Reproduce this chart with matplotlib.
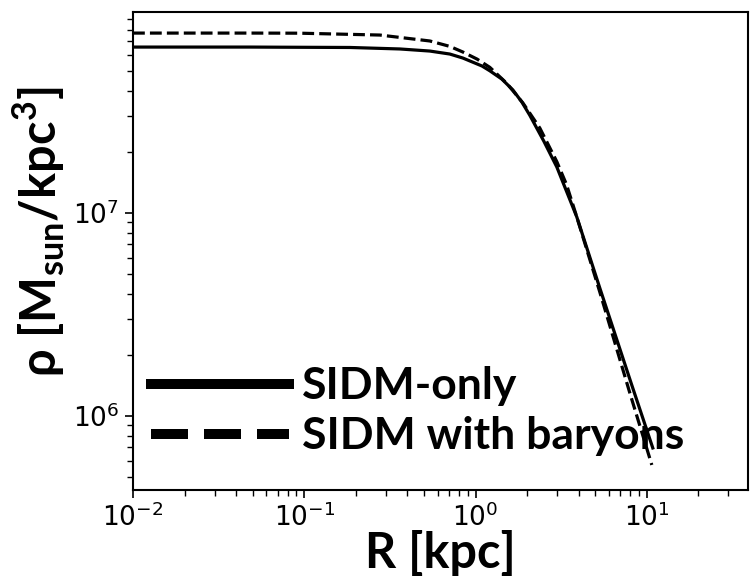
import matplotlib
matplotlib.use("Agg")
import matplotlib.pyplot as plt

# Density profiles (radius in kpc, density in Msun/kpc^3)
r_sidm = [0.01, 0.0246, 0.0482, 0.0721, 0.185, 0.362, 0.541, 0.708, 0.844,
          1.091, 1.212, 1.424, 1.652, 1.865, 2.075, 2.505, 2.984, 3.903,
          5.318, 8.175, 10.84]
rho_sidm = [6.57e7, 6.57e7, 6.57e7, 6.56e7, 6.54e7, 6.43e7, 6.28e7, 6.07e7,
            5.80e7, 5.30e7, 5.02e7, 4.57e7, 4.04e7, 3.52e7, 3.03e7, 2.26e7,
            1.685e7, 9.56e6, 4.27e6, 1.42e6, 6.96e5]

r_bary = [0.01, 0.0482, 0.0943, 0.2765, 0.541, 0.708, 0.844, 1.022, 1.212,
          1.524, 1.889, 2.375, 2.984, 3.40, 3.903, 5.318, 7.96, 10.70]
rho_bary = [7.70e7, 7.70e7, 7.69e7, 7.53e7, 7.04e7, 6.62e7, 6.21e7, 5.73e7,
            5.22e7, 4.35e7, 3.49e7, 2.62e7, 1.79e7, 1.38e7, 9.56e6, 4.08e6,
            1.30e6, 5.74e5]

labels = ["SIDM-only", "SIDM with baryons"]

plt.rcParams["mathtext.fontset"] = "custom"
plt.rcParams["mathtext.rm"] = "DejaVu Sans"
plt.rcParams["mathtext.it"] = "DejaVu Sans:italic"
plt.rcParams["mathtext.bf"] = "Lato:bold"

fig = plt.figure(figsize=(7.5, 5.84), dpi=100)
ax = fig.add_axes([133 / 750, 94 / 584, 615 / 750, 478 / 584])

ax.plot(r_sidm, rho_sidm, color="black", lw=2.3, ls="-", label=labels[0])
ax.plot(r_bary, rho_bary, color="black", lw=2.3, ls="--", label=labels[1])

ax.set_xscale("log")
ax.set_yscale("log")
ax.set_xlim(0.01, 39)
ax.set_ylim(4.32e5, 9.78e7)

ax.tick_params(which="major", length=6, width=1.2, labelsize=19, pad=4)
ax.tick_params(which="minor", length=4, width=1.0)
for s in ax.spines.values():
    s.set_linewidth(1.5)

ax.set_xlabel("R [kpc]", fontsize=35, fontweight="bold", family=["Lato", "DejaVu Sans"])
ax.xaxis.set_label_coords(0.5, -0.084)
ax.set_ylabel(r"ρ [M$_{\mathbf{sun}}$/kpc$^{\mathbf{3}}$]", fontsize=35,
              fontweight="bold", family=["Lato", "DejaVu Sans"])
ax.yaxis.set_label_coords(-0.108, 0.54)

leg = ax.legend(loc="lower left", frameon=False,
                prop={"family": "Lato", "weight": "bold", "size": 32},
                handlelength=3.1, handletextpad=0.3, labelspacing=0.22,
                borderaxespad=0.2, bbox_to_anchor=(-0.014, 0.015))
for h in leg.get_lines():
    h.set_linewidth(7.2)

fig.savefig("out.png", dpi=100)
